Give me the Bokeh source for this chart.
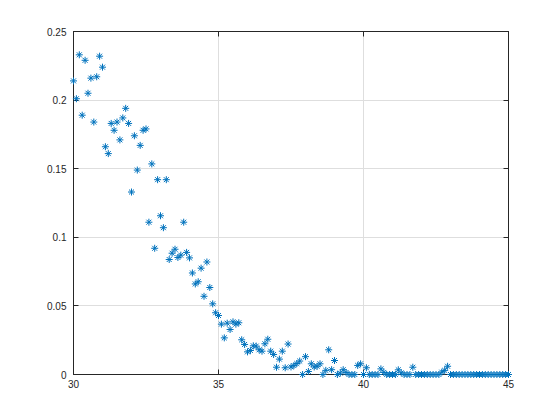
from bokeh.plotting import figure
from bokeh.models import Range1d, LinearAxis, FixedTicker, CustomJSTickFormatter, ColumnDataSource
from bokeh.embed import file_html
from bokeh.resources import INLINE

# sample grid (step 0.1 from 30 to 45)
x_vals = [round(30 + 0.1 * i, 1) for i in range(151)]

y_vals = [
    0.214, 0.201, 0.233, 0.189, 0.229, 0.205, 0.216, 0.184, 0.217, 0.232,
    0.224, 0.166, 0.161, 0.183, 0.178, 0.184, 0.171, 0.187, 0.194, 0.183,
    0.133, 0.174, 0.149, 0.167, 0.178, 0.179, 0.111, 0.1535, 0.092, 0.142,
    0.1157, 0.107, 0.142, 0.0838, 0.0884, 0.0913, 0.0853, 0.087, 0.111, 0.089,
    0.085, 0.074, 0.066, 0.0676, 0.0775, 0.057, 0.082, 0.0634, 0.0515, 0.045,
    0.043, 0.0367, 0.0267, 0.0374, 0.0328, 0.0384, 0.0367, 0.0377, 0.0253, 0.0219,
    0.0165, 0.0175, 0.0209, 0.0207, 0.018, 0.017, 0.0224, 0.0257, 0.017, 0.0146,
    0.0053, 0.0112, 0.017, 0.0049, 0.0222, 0.0055, 0.0065, 0.008, 0.0098, 0.0,
    0.013, 0.0022, 0.0078, 0.0055, 0.006, 0.0078, 0.0, 0.003, 0.018, 0.0035,
    0.0102, 0.0, 0.001, 0.0035, 0.0015, 0.0, 0.0, 0.0, 0.0066, 0.0078,
    0.0, 0.0049, 0.0, 0.0, 0.0, 0.0, 0.0041, 0.0015, 0.0, 0.0,
    0.0, 0.0, 0.0034, 0.0012, 0.0, 0.0, 0.0, 0.0053, 0.0, 0.0,
    0.0, 0.0, 0.0, 0.0, 0.0, 0.0, 0.0, 0.0017, 0.003, 0.006,
    0.0, 0.0, 0.0, 0.0, 0.0, 0.0, 0.0, 0.0, 0.0, 0.0,
    0.0, 0.0, 0.0, 0.0, 0.0, 0.0, 0.0, 0.0, 0.0, 0.0,
    0.0,
]

x_ticks = [30, 35, 40, 45]
y_ticks = [0, 0.05, 0.1, 0.15, 0.2, 0.25]

AX = "#262626"
FONT = "Liberation Sans"

p = figure(
    frame_width=435, frame_height=343,
    x_range=Range1d(30, 45), y_range=Range1d(0, 0.25),
    output_backend="svg", toolbar_location=None,
    min_border_left=73, min_border_right=44,
    min_border_top=31, min_border_bottom=38,
    background_fill_color="white", border_fill_color="white",
)

p.outline_line_color = AX
p.outline_line_width = 1

fmt = CustomJSTickFormatter(code="return tick.toString();")
blank = CustomJSTickFormatter(code="return '';")


def style(ax, ticks, show):
    ax.ticker = FixedTicker(ticks=ticks)
    ax.major_tick_in = 5
    ax.major_tick_out = 0
    ax.minor_tick_line_color = None
    ax.axis_line_color = AX
    ax.major_tick_line_color = AX
    ax.major_label_text_font = FONT
    ax.major_label_text_font_size = "10px"
    ax.major_label_text_color = AX
    ax.formatter = fmt if show else blank


style(p.xaxis[0], x_ticks, True)
p.xaxis[0].major_label_standoff = 5
style(p.yaxis[0], y_ticks, True)
p.yaxis[0].major_label_standoff = 7

top = LinearAxis()
style(top, x_ticks, False)
p.add_layout(top, "above")
right = LinearAxis()
style(right, y_ticks, False)
p.add_layout(right, "right")

p.xgrid.ticker = FixedTicker(ticks=x_ticks)
p.ygrid.ticker = FixedTicker(ticks=y_ticks)
p.xgrid.grid_line_color = "#dedede"
p.ygrid.grid_line_color = "#dedede"

src = ColumnDataSource(data=dict(x=x_vals, y=y_vals))
r = p.scatter("x", "y", source=src, marker="asterisk", size=7,
              line_color="#0072BD", line_width=1)
r.level = "overlay"

open("out.html", "w").write(file_html(p, INLINE))
